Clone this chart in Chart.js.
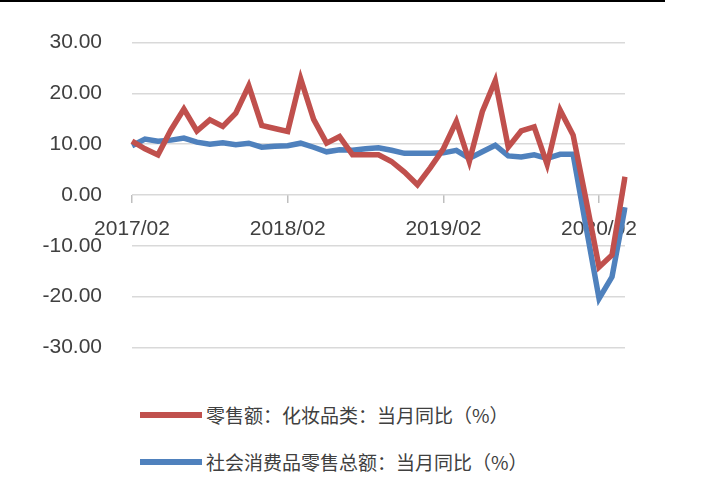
<!DOCTYPE html><html><head><meta charset="utf-8">
<script src="https://cdn.jsdelivr.net/npm/chart.js@4"></script>
<style>body{margin:0;width:720px;height:497px;background:#fff;position:relative;overflow:hidden;font-family:"Noto Sans CJK SC","Liberation Sans",sans-serif}
#wrap{position:absolute;left:0;top:0;width:720px;height:390px}
.lg{position:absolute;left:140px;font-size:19px;color:#404040;display:flex;align-items:center}
.lg span{display:inline-block;width:62px;height:6px;margin-right:4px}
</style></head><body>
<div style="position:absolute;left:0;top:0;width:665px;height:2px;background:#000"></div>
<div id="wrap"><canvas id="c"></canvas></div>
<div class="lg" style="top:401px"><span style="background:#c0504d"></span>零售额：化妆品类：当月同比（%）</div>
<div class="lg" style="top:448px"><span style="background:#4f81bd"></span>社会消费品零售总额：当月同比（%）</div>
<script>
const labels=[];
for(let i=0;i<39;i++){const m=1+i,y=2017+Math.floor(m/12),mo=m%12+1;labels.push(y+'/'+String(mo).padStart(2,'0'));}
const cosmetics=[10.6,9.1,7.9,12.8,16.9,12.6,14.8,13.5,16.1,21.5,13.7,13.1,12.5,22.9,14.9,10.2,11.5,7.9,7.9,7.9,6.6,4.5,2.0,5.4,9.1,14.5,6.6,16.4,22.5,9.4,12.6,13.4,6.0,16.7,11.8,-1,-14.2,-11.8,3.6];
const retail=[9.7,11.0,10.6,10.8,11.2,10.4,10.0,10.3,9.9,10.2,9.4,9.6,9.7,10.2,9.4,8.5,8.9,8.8,9.1,9.3,8.8,8.2,8.2,8.2,8.3,8.8,7.2,8.5,9.8,7.7,7.5,7.9,7.2,8.0,8.0,-6.3,-20.4,-16.1,-2.4];
const yTicks=[30,20,10,0,-10,-20,-30];
new Chart(document.getElementById('c'),{type:'line',data:{labels,datasets:[
{data:cosmetics,borderColor:'#c0504d',borderWidth:5.5,pointRadius:0,tension:0},
{data:retail,borderColor:'#4f81bd',borderWidth:5.5,pointRadius:0,tension:0}]},
options:{responsive:true,maintainAspectRatio:false,animation:false,
layout:{padding:{top:42,right:95,bottom:8,left:0}},
plugins:{legend:{display:false},tooltip:{enabled:false}},
scales:{
x:{position:{y:0},offset:false,border:{display:false},
 grid:{drawOnChartArea:false,tickLength:8,color:c=>c.index%12===0?'#bfbfbf':'transparent',lineWidth:1.5},
 ticks:{autoSkip:false,maxRotation:0,padding:14,color:'#404040',font:{size:21,family:'Liberation Sans'},callback:(v,i)=>i%12===0?labels[i]:''}},
y:{min:-30,max:30,afterBuildTicks:a=>{a.ticks=yTicks.map(v=>({value:v}));},afterFit:a=>{a.width=132;},
 border:{display:false},grid:{color:'#d9d9d9',lineWidth:1.5,drawTicks:false},
 ticks:{padding:30,color:'#404040',font:{size:21,family:'Liberation Sans'},callback:v=>v.toFixed(2)}}}}});
</script></body></html>
